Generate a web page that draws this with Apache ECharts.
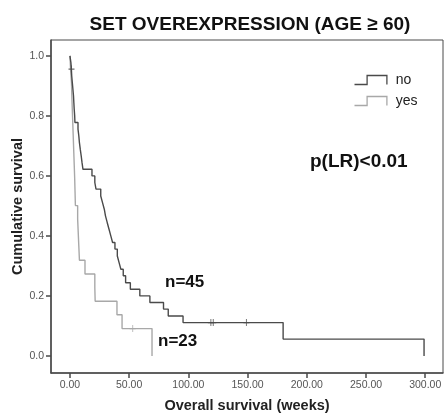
<!DOCTYPE html>
<html>
<head>
<meta charset="utf-8">
<script src="https://cdn.jsdelivr.net/npm/echarts@6/dist/echarts.min.js"></script>
<style>
html,body{margin:0;padding:0;background:#fff;}
#c{width:444px;height:416px;}
</style>
</head>
<body>
<div id="c"></div>
<script>
// ---- data ----
var titleText = 'SET OVEREXPRESSION (AGE \u2265 60)';
var xTicks = [0, 50, 100, 150, 200, 250, 300];
var yTicks = [0, 0.2, 0.4, 0.6, 0.8, 1.0];
var seriesNames = ['no', 'yes'];

// group "no" (n=45): event times (weeks) and survival after each event
var noTimes = [0, 0.8, 1.2, 1.5, 2, 2.5, 3, 3.3, 3.6, 4, 4.2,
  6.8, 7.5, 8, 8.7, 9.5, 10.2, 11,
  18.6, 21, 22,
  26, 27.5, 29, 30, 31.5, 33, 34.5, 36, 38, 40, 41.5, 43, 45, 47, 51, 59, 67.5,
  79, 83, 95.5, 180, 299];
var noSurv = [1.0, 0.978, 0.956, 0.933, 0.911, 0.889, 0.867, 0.844, 0.822, 0.800, 0.778,
  0.756, 0.733, 0.711, 0.689, 0.667, 0.644, 0.622,
  0.600, 0.578, 0.556,
  0.533, 0.511, 0.489, 0.467, 0.444, 0.422, 0.400, 0.378, 0.356, 0.333, 0.311, 0.289, 0.267, 0.244, 0.222, 0.200, 0.178,
  0.156, 0.133, 0.111, 0.056, 0.0];
var noCensor = [1.3, 119, 121, 149];

// group "yes" (n=23)
var yesTimes = [0, 0.5, 1.3, 1.6, 2, 2.4, 2.8, 3.2, 3.6, 4, 4.3, 4.6,
  6.5, 7, 7.5, 8, 12.7, 21, 21.3, 39.7, 44, 69.3];
var yesSurv = [1.0, 0.957, 0.911, 0.866, 0.820, 0.774, 0.729, 0.683, 0.638, 0.592, 0.547, 0.501,
  0.456, 0.410, 0.365, 0.319, 0.273, 0.228, 0.182, 0.137, 0.091, 0.0];
var yesCensor = [53];

var pText = 'p(LR)<0.01';
var nNo = 'n=45';
var nYes = 'n=23';
var xName = 'Overall survival (weeks)';
var yName = 'Cumulative survival';

// ---- build ----
function pairs(t, s) { return t.map(function (v, i) { return [v, s[i]]; }); }
function survAt(t, s, x) {
  var v = s[0];
  for (var i = 0; i < t.length; i++) { if (t[i] <= x) v = s[i]; }
  return v;
}
function censorPts(ct, t, s) { return ct.map(function (x) { return [x, survAt(t, s, x)]; }); }

var cNo = '#4a4a4a', cYes = '#a8a8a8';
var axisCol = '#4a4a4a';
var font = '"Liberation Sans", Arial, sans-serif';
var plus = 'path://M5,0L5,10M0,5L10,5';

var chart = echarts.init(document.getElementById('c'), null, {renderer: 'canvas'});
chart.setOption({
  backgroundColor: '#fff',
  animation: false,
  title: {
    text: titleText, left: 245, top: 10, textAlign: 'center',
    textStyle: {fontFamily: font, fontSize: 19, fontWeight: 'bold', color: '#111'}
  },
  grid: {left: 51, top: 40, right: 1, bottom: 43, outerBoundsMode: 'none', containLabel: false,
    show: true, borderColor: axisCol, borderWidth: 1, backgroundColor: '#fff'},
  legend: {
    data: seriesNames, orient: 'vertical', left: 352, top: 73, padding: 0,
    icon: 'path://M0,10L14,10L14,0L36,0L36,10',
    itemWidth: 36, itemHeight: 9, itemGap: 7,
    itemStyle: {color: 'none', borderColor: 'inherit', borderWidth: 1.3},
    textStyle: {fontFamily: font, fontSize: 14, color: '#222', padding: [0, 0, 0, 2]}
  },
  xAxis: {
    type: 'value', min: -16, max: 315,
    name: xName, nameLocation: 'middle', nameGap: 25, nameMoveOverlap: false,
    nameTextStyle: {fontFamily: font, fontSize: 14.5, fontWeight: 'bold', color: '#222'},
    axisLine: {show: true, onZero: false, lineStyle: {color: axisCol, width: 1.5}},
    axisTick: {show: true, length: 5, customValues: xTicks, lineStyle: {color: axisCol, width: 1.5}},
    axisLabel: {customValues: xTicks, margin: 7, fontFamily: font, fontSize: 10.5, color: '#555',
      formatter: function (v) { return v.toFixed(2); }},
    splitLine: {show: false}
  },
  yAxis: {
    type: 'value', min: -0.057, max: 1.053,
    name: yName, nameLocation: 'middle', nameGap: 26, nameRotate: 90, nameMoveOverlap: false,
    nameTextStyle: {fontFamily: font, fontSize: 14.5, fontWeight: 'bold', color: '#222'},
    axisLine: {show: true, onZero: false, lineStyle: {color: axisCol, width: 1.5}},
    axisTick: {show: true, length: 5, customValues: yTicks, lineStyle: {color: axisCol, width: 1.5}},
    axisLabel: {customValues: yTicks, margin: 7, fontFamily: font, fontSize: 10.5, color: '#555',
      formatter: function (v) { return v.toFixed(1); }},
    splitLine: {show: false}
  },
  series: [
    {name: seriesNames[0], type: 'line', step: 'end', showSymbol: false, z: 3,
      data: pairs(noTimes, noSurv),
      itemStyle: {color: cNo, borderColor: cNo},
      lineStyle: {color: cNo, width: 1.4}},
    {name: seriesNames[1], type: 'line', step: 'end', showSymbol: false, z: 2,
      data: pairs(yesTimes, yesSurv),
      itemStyle: {color: cYes, borderColor: cYes},
      lineStyle: {color: cYes, width: 1.4}},
    {name: 'noCensor', type: 'scatter', symbol: plus, symbolSize: [6, 7], z: 4,
      data: censorPts(noCensor, noTimes, noSurv),
      itemStyle: {color: 'none', borderColor: cNo, borderWidth: 1}},
    {name: 'yesCensor', type: 'scatter', symbol: plus, symbolSize: [6, 7], z: 4,
      data: censorPts(yesCensor, yesTimes, yesSurv),
      itemStyle: {color: 'none', borderColor: cYes, borderWidth: 1}}
  ],
  graphic: [
    {type: 'text', left: 310, top: 152, style: {text: pText, fontFamily: font, fontSize: 19, fontWeight: 'bold', fill: '#111'}},
    {type: 'text', left: 165, top: 274, style: {text: nNo, fontFamily: font, fontSize: 17, fontWeight: 'bold', fill: '#111'}},
    {type: 'text', left: 158, top: 333, style: {text: nYes, fontFamily: font, fontSize: 17, fontWeight: 'bold', fill: '#111'}}
  ]
});
</script>
</body>
</html>
